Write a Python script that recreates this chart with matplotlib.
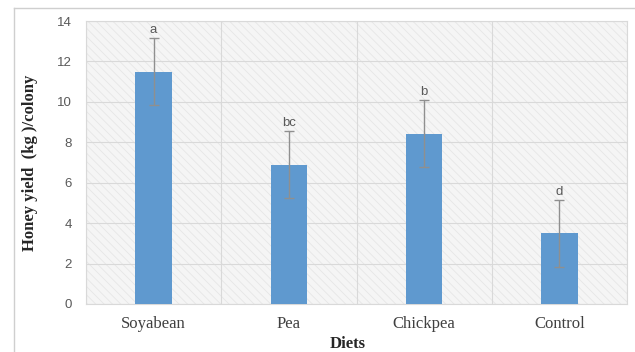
import matplotlib
matplotlib.use("Agg")
import matplotlib.pyplot as plt
from matplotlib.lines import Line2D
import numpy as np

diets = ["Soyabean", "Pea", "Chickpea", "Control"]
yield_kg = [11.5, 6.9, 8.42, 3.5]
errors = [1.65, 1.65, 1.65, 1.65]
letters = ["a", "bc", "b", "d"]
yticks = [0, 2, 4, 6, 8, 10, 12, 14]

plt.rcParams['hatch.color'] = '#e6e6e6'
plt.rcParams['hatch.linewidth'] = 0.6

fig = plt.figure(figsize=(6.35, 3.52), dpi=100)
fig.patch.set_facecolor('white')
ax = fig.add_axes([86/635, 48/352, (627-86)/635, (304-21)/352])

# hatched background
ax.set_facecolor('#f5f5f5')
bg = plt.Rectangle((0, 0), 1, 1, transform=ax.transAxes, facecolor='#f5f5f5',
                   edgecolor='#e6e6e6', hatch='\\\\\\\\', linewidth=0, zorder=0)
ax.add_patch(bg)

x = np.arange(len(diets))
ax.bar(x, yield_kg, width=0.27, color='#5f99cf', zorder=3)
ax.errorbar(x, yield_kg, yerr=errors, fmt='none', ecolor='#8f8f8f',
            elinewidth=1.0, capsize=3.8, capthick=1.0, zorder=4)
for xi, v, e, lab in zip(x, yield_kg, errors, letters):
    ax.annotate(lab, (xi, v + e), xytext=(0, 1.5), textcoords='offset points',
                ha='center', va='bottom', fontsize=9.5, color='#595959',
                family='Liberation Sans', zorder=5)

ax.set_xlim(-0.5, len(diets) - 0.5)
ax.set_ylim(0, 14)
ax.set_yticks(yticks)
ax.set_yticklabels([str(t) for t in yticks], family='Liberation Sans',
                   fontsize=9.5, color='#595959')
ax.set_xticks(x)
ax.set_xticklabels(diets, family='Liberation Serif', fontsize=12, color='#404040')
ax.set_xticks(np.arange(len(diets) + 1) - 0.5, minor=True)
ax.tick_params(axis='both', which='both', length=0)
ax.tick_params(axis='y', pad=10)
ax.tick_params(axis='x', pad=9)
ax.grid(axis='y', which='major', color='#d9d9d9', linewidth=0.8, zorder=1)
ax.grid(axis='x', which='minor', color='#d9d9d9', linewidth=0.8, zorder=1)
ax.grid(axis='x', which='major', visible=False)
for s in ax.spines.values():
    s.set_color('#d9d9d9')
    s.set_linewidth(0.8)

ax.set_ylabel("Honey yield  (kg )/colony", family='Liberation Serif',
              fontweight='bold', fontsize=12, color='#262626')
ax.yaxis.set_label_coords(-48/541, 0.5)
fig.text(330/635, 1 - 344/352, "Diets", family='Liberation Serif',
         fontweight='bold', fontsize=12, color='#262626', ha='left', va='center')

# outer chart frame
fig.add_artist(Line2D([14/635, 1], [1 - 8/352, 1 - 8/352], color='#cfcfcf', linewidth=1.0))
fig.add_artist(Line2D([14/635, 14/635], [0, 1 - 8/352], color='#cfcfcf', linewidth=1.0))

fig.savefig("out.png", dpi=100)
